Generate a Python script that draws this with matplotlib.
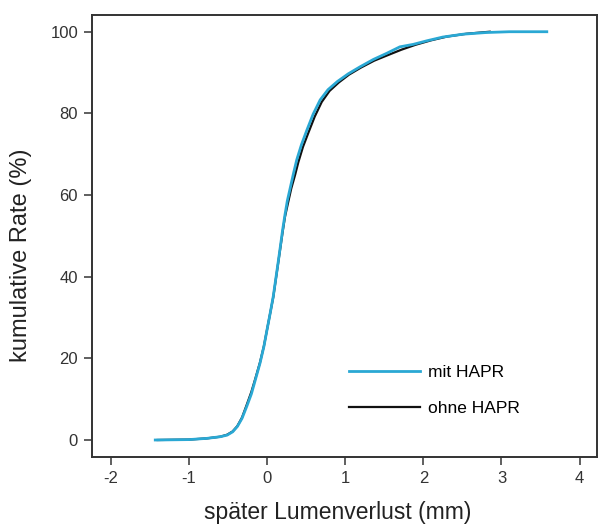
import matplotlib
matplotlib.use("Agg")
import matplotlib.pyplot as plt

# cumulative curves (x in mm, y in %)
mit_x = [-1.43, -1.0, -0.77, -0.6, -0.51, -0.44, -0.38, -0.32, -0.26, -0.2, -0.15, -0.09, -0.04,
         0.0, 0.04, 0.08, 0.11, 0.14, 0.17, 0.20, 0.23, 0.26, 0.30, 0.34, 0.38, 0.44, 0.51, 0.59,
         0.68, 0.78, 0.90, 1.04, 1.19, 1.36, 1.53, 1.70, 1.87, 2.05, 2.25, 2.51, 2.8, 3.1, 3.58]
mit_y = [0.0, 0.1, 0.4, 0.8, 1.2, 2.0, 3.3, 5.3, 8.2, 11.3, 14.7, 18.8, 22.9,
         27.0, 31.0, 35.2, 39.2, 43.2, 47.3, 51.5, 55.2, 58.6, 62.0, 65.4, 68.6, 72.3, 75.9, 79.8,
         83.3, 85.8, 87.8, 89.7, 91.4, 93.2, 94.7, 96.3, 96.9, 97.8, 98.7, 99.4, 99.8, 100.0, 100.0]

ohne_x = [-1.40, -1.0, -0.77, -0.6, -0.51, -0.44, -0.38, -0.32, -0.26, -0.2, -0.15, -0.09, -0.04,
          0.0, 0.04, 0.08, 0.11, 0.14, 0.17, 0.20, 0.23, 0.27, 0.31, 0.36, 0.40, 0.46, 0.53, 0.61,
          0.70, 0.80, 0.92, 1.05, 1.20, 1.37, 1.55, 1.72, 1.90, 2.10, 2.30, 2.55, 2.85]
ohne_y = [0.0, 0.1, 0.4, 0.8, 1.3, 2.1, 3.4, 5.5, 8.6, 11.8, 15.0, 19.0, 23.0,
          27.0, 31.0, 35.0, 39.0, 43.0, 47.0, 51.0, 54.7, 58.2, 61.6, 65.0, 68.0, 71.8, 75.3, 79.2,
          82.8, 85.5, 87.6, 89.5, 91.2, 92.9, 94.3, 95.6, 96.8, 97.9, 98.8, 99.5, 100.0]

labels = ["mit HAPR", "ohne HAPR"]
colors = ["#2aa8d4", "#111111"]

plt.rcParams['font.family'] = ['Liberation Sans', 'DejaVu Sans']
plt.rcParams['axes.unicode_minus'] = False

fig = plt.figure(figsize=(5.98, 5.26), dpi=100)
ax = fig.add_axes([0.1538, 0.1312, 0.8442, 0.8403])

# black first so the blue one sits on top
l2, = ax.plot(ohne_x, ohne_y, color=colors[1], lw=1.6, zorder=2)
l1, = ax.plot(mit_x, mit_y, color=colors[0], lw=2.0, zorder=3)

ax.set_xlim(-2.24, 4.22)
ax.set_ylim(-4.16, 104.1)
ax.set_xticks([-2, -1, 0, 1, 2, 3, 4])
ax.set_yticks([0, 20, 40, 60, 80, 100])

for s in ax.spines.values():
    s.set_color('#333333')
    s.set_linewidth(1.4)
ax.tick_params(direction='out', length=6, width=1.2, color='#444444',
               labelsize=12, labelcolor='#333333', pad=4)

ax.set_xlabel("später Lumenverlust (mm)", fontsize=16.5, color='#222222')
ax.set_ylabel("kumulative Rate (%)", fontsize=17, color='#222222')
ax.xaxis.set_label_coords(0.486, -0.100)
ax.yaxis.set_label_coords(-0.119, 0.457)

ax.legend([l1, l2], labels, loc='upper left', bbox_to_anchor=(0.509, 0.208),
          frameon=False, fontsize=12.5, handlelength=4.1, handletextpad=0.45,
          labelspacing=1.2, borderpad=0, borderaxespad=0)

fig.savefig("out.png", dpi=100)
